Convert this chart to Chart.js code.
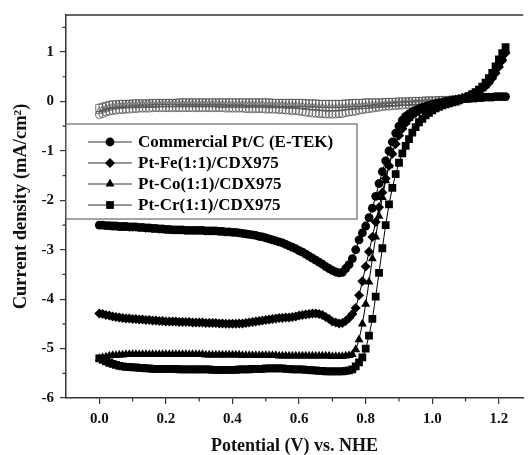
<!DOCTYPE html>
<html>
<head>
<meta charset="utf-8">
<script src="https://cdn.jsdelivr.net/npm/chart.js@4.4.0/dist/chart.umd.min.js"></script>
<style>
  html, body { margin: 0; padding: 0; background: #fff; }
</style>
</head>
<body>
<canvas id="orrChart" width="529" height="455"></canvas>
<script>
// potential sweep (V vs. NHE)
const potential = [
    0.00, 0.01, 0.02, 0.03, 0.04, 0.05, 0.06, 0.07, 0.08, 0.09,
    0.10, 0.11, 0.12, 0.13, 0.14, 0.15, 0.16, 0.17, 0.18, 0.19,
    0.20, 0.21, 0.22, 0.23, 0.24, 0.25, 0.26, 0.27, 0.28, 0.29,
    0.30, 0.31, 0.32, 0.33, 0.34, 0.35, 0.36, 0.37, 0.38, 0.39,
    0.40, 0.41, 0.42, 0.43, 0.44, 0.45, 0.46, 0.47, 0.48, 0.49,
    0.50, 0.51, 0.52, 0.53, 0.54, 0.55, 0.56, 0.57, 0.58, 0.59,
    0.60, 0.61, 0.62, 0.63, 0.64, 0.65, 0.66, 0.67, 0.68, 0.69,
    0.70, 0.71, 0.72, 0.73, 0.74, 0.75, 0.76, 0.77, 0.78, 0.79,
    0.80, 0.81, 0.82, 0.83, 0.84, 0.85, 0.86, 0.87, 0.88, 0.89,
    0.90, 0.91, 0.92, 0.93, 0.94, 0.95, 0.96, 0.97, 0.98, 0.99,
    1.00, 1.01, 1.02, 1.03, 1.04, 1.05, 1.06, 1.07, 1.08, 1.09,
    1.10, 1.11, 1.12, 1.13, 1.14, 1.15, 1.16, 1.17, 1.18, 1.19,
    1.20, 1.21, 1.22
];

// current density (mA/cm2)
const commercialPtC = [
    -2.50, -2.50, -2.51, -2.51, -2.52, -2.52, -2.53, -2.53, -2.53, -2.54,
    -2.54, -2.54, -2.55, -2.55, -2.56, -2.56, -2.57, -2.57, -2.58, -2.58,
    -2.59, -2.59, -2.60, -2.60, -2.60, -2.60, -2.61, -2.61, -2.61, -2.61,
    -2.61, -2.61, -2.62, -2.62, -2.62, -2.62, -2.63, -2.63, -2.64, -2.64,
    -2.65, -2.65, -2.66, -2.67, -2.68, -2.69, -2.70, -2.71, -2.73, -2.74,
    -2.76, -2.78, -2.80, -2.82, -2.84, -2.86, -2.89, -2.92, -2.95, -2.98,
    -3.02, -3.05, -3.09, -3.13, -3.17, -3.21, -3.25, -3.29, -3.34, -3.38,
    -3.42, -3.45, -3.47, -3.46, -3.38, -3.30, -3.18, -3.00, -2.80, -2.66,
    -2.52, -2.35, -2.16, -1.92, -1.66, -1.42, -1.20, -1.00, -0.82, -0.64,
    -0.50, -0.38, -0.30, -0.25, -0.21, -0.18, -0.15, -0.12, -0.10, -0.08,
    -0.06, -0.05, -0.03, -0.02, 0.00, 0.01, 0.02, 0.03, 0.04, 0.05,
    0.06, 0.06, 0.07, 0.07, 0.08, 0.08, 0.09, 0.09, 0.09, 0.10,
    0.10, 0.10, 0.10
];
const ptFe = [
    -4.29, -4.30, -4.32, -4.33, -4.35, -4.36, -4.37, -4.38, -4.39, -4.39,
    -4.40, -4.40, -4.41, -4.41, -4.42, -4.42, -4.43, -4.43, -4.44, -4.44,
    -4.45, -4.45, -4.45, -4.45, -4.46, -4.46, -4.46, -4.46, -4.47, -4.47,
    -4.47, -4.47, -4.48, -4.48, -4.48, -4.48, -4.49, -4.49, -4.50, -4.50,
    -4.50, -4.50, -4.49, -4.49, -4.48, -4.47, -4.46, -4.45, -4.44, -4.43,
    -4.42, -4.41, -4.40, -4.39, -4.38, -4.38, -4.37, -4.37, -4.36, -4.35,
    -4.33, -4.32, -4.31, -4.30, -4.29, -4.29, -4.30, -4.32, -4.36, -4.40,
    -4.45, -4.47, -4.49, -4.48, -4.44, -4.38, -4.30, -4.18, -3.92, -3.64,
    -3.34, -3.04, -2.74, -2.44, -2.14, -1.84, -1.56, -1.30, -1.06, -0.86,
    -0.69, -0.55, -0.44, -0.35, -0.28, -0.23, -0.19, -0.15, -0.12, -0.09,
    -0.07, -0.05, -0.04, -0.02, -0.01, 0.00, 0.02, 0.03, 0.05, 0.07,
    0.09, 0.11, 0.14, 0.17, 0.21, 0.26, 0.31, 0.38, 0.47, 0.57,
    0.70, 0.83, 0.98
];
const ptCo = [
    -5.20, -5.18, -5.17, -5.15, -5.14, -5.14, -5.13, -5.13, -5.12, -5.12,
    -5.12, -5.12, -5.12, -5.12, -5.12, -5.12, -5.12, -5.12, -5.12, -5.12,
    -5.12, -5.12, -5.12, -5.12, -5.12, -5.12, -5.12, -5.12, -5.12, -5.12,
    -5.12, -5.12, -5.13, -5.13, -5.13, -5.13, -5.13, -5.13, -5.13, -5.13,
    -5.13, -5.13, -5.13, -5.14, -5.14, -5.14, -5.14, -5.14, -5.14, -5.14,
    -5.14, -5.14, -5.14, -5.14, -5.15, -5.15, -5.15, -5.15, -5.15, -5.15,
    -5.15, -5.15, -5.15, -5.15, -5.15, -5.15, -5.15, -5.15, -5.15, -5.15,
    -5.16, -5.16, -5.16, -5.16, -5.15, -5.14, -5.12, -5.02, -4.82, -4.50,
    -4.10, -3.65, -3.18, -2.74, -2.32, -1.94, -1.60, -1.30, -1.04, -0.83,
    -0.66, -0.52, -0.42, -0.34, -0.27, -0.22, -0.18, -0.15, -0.12, -0.09,
    -0.07, -0.05, -0.04, -0.02, -0.01, 0.00, 0.02, 0.03, 0.05, 0.07,
    0.09, 0.11, 0.14, 0.17, 0.21, 0.26, 0.32, 0.40, 0.50, 0.62,
    0.76, 0.90, 1.05
];
const ptCr = [
    -5.20, -5.23, -5.26, -5.29, -5.31, -5.33, -5.35, -5.36, -5.37, -5.37,
    -5.38, -5.38, -5.39, -5.39, -5.40, -5.40, -5.41, -5.41, -5.41, -5.41,
    -5.41, -5.41, -5.41, -5.41, -5.42, -5.42, -5.42, -5.42, -5.42, -5.42,
    -5.42, -5.42, -5.42, -5.42, -5.43, -5.43, -5.43, -5.43, -5.43, -5.43,
    -5.43, -5.43, -5.42, -5.42, -5.42, -5.42, -5.41, -5.41, -5.41, -5.41,
    -5.40, -5.40, -5.40, -5.40, -5.40, -5.40, -5.41, -5.41, -5.42, -5.42,
    -5.42, -5.42, -5.43, -5.43, -5.44, -5.44, -5.45, -5.45, -5.46, -5.46,
    -5.46, -5.46, -5.46, -5.46, -5.45, -5.44, -5.42, -5.36, -5.28, -5.18,
    -5.00, -4.74, -4.40, -3.95, -3.47, -2.97, -2.50, -2.08, -1.75, -1.47,
    -1.24, -1.05, -0.90, -0.76, -0.63, -0.52, -0.42, -0.35, -0.28, -0.23,
    -0.18, -0.14, -0.11, -0.08, -0.06, -0.04, -0.02, 0.00, 0.03, 0.05,
    0.08, 0.11, 0.15, 0.19, 0.24, 0.30, 0.38, 0.47, 0.58, 0.71,
    0.85, 0.98, 1.10
];

// background scans (open symbols near zero)
const blankPotential = [
    0.00, 0.01, 0.02, 0.03, 0.04, 0.05, 0.06, 0.07, 0.08, 0.09,
    0.10, 0.11, 0.12, 0.13, 0.14, 0.15, 0.16, 0.17, 0.18, 0.19,
    0.20, 0.21, 0.22, 0.23, 0.24, 0.25, 0.26, 0.27, 0.28, 0.29,
    0.30, 0.31, 0.32, 0.33, 0.34, 0.35, 0.36, 0.37, 0.38, 0.39,
    0.40, 0.41, 0.42, 0.43, 0.44, 0.45, 0.46, 0.47, 0.48, 0.49,
    0.50, 0.51, 0.52, 0.53, 0.54, 0.55, 0.56, 0.57, 0.58, 0.59,
    0.60, 0.61, 0.62, 0.63, 0.64, 0.65, 0.66, 0.67, 0.68, 0.69,
    0.70, 0.71, 0.72, 0.73, 0.74, 0.75, 0.76, 0.77, 0.78, 0.79,
    0.80, 0.81, 0.82, 0.83, 0.84, 0.85, 0.86, 0.87, 0.88, 0.89,
    0.90, 0.91, 0.92, 0.93, 0.94, 0.95, 0.96, 0.97, 0.98, 0.99,
    1.00, 1.01, 1.02, 1.03, 1.04, 1.05, 1.06, 1.07, 1.08
];
const blankSquares = [
    -0.13, -0.11, -0.09, -0.07, -0.06, -0.06, -0.05, -0.05, -0.05, -0.05,
    -0.04, -0.04, -0.04, -0.04, -0.04, -0.04, -0.03, -0.03, -0.03, -0.03,
    -0.03, -0.03, -0.03, -0.03, -0.02, -0.02, -0.02, -0.02, -0.02, -0.02,
    -0.02, -0.02, -0.02, -0.02, -0.02, -0.02, -0.02, -0.02, -0.02, -0.02,
    -0.02, -0.02, -0.02, -0.02, -0.02, -0.02, -0.02, -0.02, -0.02, -0.02,
    -0.02, -0.02, -0.03, -0.03, -0.03, -0.03, -0.03, -0.03, -0.03, -0.03,
    -0.03, -0.03, -0.04, -0.04, -0.04, -0.04, -0.05, -0.05, -0.05, -0.05,
    -0.05, -0.05, -0.05, -0.05, -0.04, -0.04, -0.03, -0.03, -0.03, -0.03,
    -0.02, -0.02, -0.02, -0.02, -0.02, -0.02, -0.01, -0.01, -0.01, -0.01,
    0.00, 0.00, 0.00, 0.00, 0.01, 0.01, 0.01, 0.01, 0.02, 0.02,
    0.02, 0.02, 0.03, 0.03, 0.03, 0.03, 0.04, 0.04, 0.05
];
const blankTriangles = [
    -0.20, -0.17, -0.15, -0.13, -0.11, -0.10, -0.09, -0.09, -0.08, -0.08,
    -0.08, -0.08, -0.07, -0.07, -0.07, -0.07, -0.07, -0.07, -0.06, -0.06,
    -0.06, -0.06, -0.06, -0.06, -0.06, -0.06, -0.06, -0.06, -0.06, -0.06,
    -0.06, -0.06, -0.06, -0.06, -0.06, -0.06, -0.07, -0.07, -0.07, -0.07,
    -0.07, -0.07, -0.07, -0.07, -0.07, -0.07, -0.07, -0.07, -0.07, -0.07,
    -0.08, -0.08, -0.08, -0.08, -0.08, -0.08, -0.09, -0.09, -0.09, -0.09,
    -0.10, -0.10, -0.11, -0.11, -0.12, -0.12, -0.13, -0.13, -0.14, -0.14,
    -0.14, -0.14, -0.13, -0.13, -0.12, -0.12, -0.11, -0.11, -0.10, -0.10,
    -0.09, -0.09, -0.08, -0.08, -0.07, -0.07, -0.06, -0.06, -0.05, -0.05,
    -0.04, -0.04, -0.03, -0.03, -0.03, -0.03, -0.02, -0.02, -0.01, -0.01,
    -0.01, -0.01, 0.00, 0.00, 0.01, 0.01, 0.01, 0.02, 0.02
];
const blankCircles = [
    -0.27, -0.25, -0.22, -0.20, -0.19, -0.18, -0.17, -0.17, -0.16, -0.16,
    -0.15, -0.15, -0.14, -0.14, -0.14, -0.14, -0.13, -0.13, -0.13, -0.13,
    -0.13, -0.13, -0.13, -0.13, -0.13, -0.13, -0.13, -0.13, -0.13, -0.13,
    -0.13, -0.13, -0.13, -0.13, -0.13, -0.13, -0.13, -0.13, -0.14, -0.14,
    -0.14, -0.14, -0.14, -0.14, -0.15, -0.15, -0.15, -0.15, -0.15, -0.15,
    -0.16, -0.16, -0.16, -0.16, -0.17, -0.17, -0.18, -0.18, -0.19, -0.19,
    -0.20, -0.21, -0.22, -0.23, -0.24, -0.24, -0.25, -0.25, -0.26, -0.26,
    -0.26, -0.26, -0.25, -0.25, -0.23, -0.22, -0.21, -0.20, -0.18, -0.17,
    -0.16, -0.15, -0.14, -0.13, -0.12, -0.11, -0.10, -0.10, -0.09, -0.09,
    -0.08, -0.08, -0.07, -0.07, -0.06, -0.06, -0.05, -0.05, -0.04, -0.04,
    -0.04, -0.04, -0.03, -0.03, -0.02, -0.02, -0.01, -0.01, 0.00
];

const seriesNames = ['Commercial Pt/C (E-TEK)', 'Pt-Fe(1:1)/CDX975', 'Pt-Co(1:1)/CDX975', 'Pt-Cr(1:1)/CDX975'];
const xTicks = [0.0, 0.2, 0.4, 0.6, 0.8, 1.0, 1.2];
const xMinorTicks = [0.1, 0.3, 0.5, 0.7, 0.9, 1.1];
const yTicks = [-6, -5, -4, -3, -2, -1, 0, 1];
const yMinorTicks = [-5.5, -4.5, -3.5, -2.5, -1.5, -0.5, 0.5, 1.5];

const FONT = '"Liberation Serif", "Times New Roman", serif';

function toPoints(xs, ys) {
    return xs.map((x, i) => ({ x: x, y: ys[i] }));
}

const solidStyle = [
    { pointStyle: 'circle', radius: 4.4 },
    { pointStyle: 'rectRot', radius: 5 },
    { pointStyle: 'triangle', radius: 5.2 },
    { pointStyle: 'rect', radius: 5.5 }
];

function solidSet(i, values) {
    return {
        label: seriesNames[i],
        data: toPoints(potential, values),
        borderColor: '#000',
        backgroundColor: '#000',
        borderWidth: 1,
        pointStyle: solidStyle[i].pointStyle,
        pointRadius: solidStyle[i].radius,
        pointBorderWidth: 0,
        pointBackgroundColor: '#000'
    };
}

function openSet(style, radius, values) {
    return {
        label: '',
        data: toPoints(blankPotential, values),
        showLine: false,
        pointStyle: style,
        pointRadius: radius,
        pointBorderWidth: 0.8,
        pointBorderColor: '#555',
        pointBackgroundColor: 'rgba(255,255,255,0)'
    };
}

// minor ticks and top frame line
const frameAndMinors = {
    id: 'frameAndMinors',
    afterDraw(chart) {
        const { ctx, chartArea: a, scales: { x, y } } = chart;
        ctx.save();
        ctx.strokeStyle = '#333';
        ctx.lineWidth = 1.2;
        ctx.beginPath();
        xMinorTicks.forEach(v => {
            const px = x.getPixelForValue(v);
            ctx.moveTo(px, a.bottom);
            ctx.lineTo(px, a.bottom + 3.5);
        });
        yMinorTicks.forEach(v => {
            const py = y.getPixelForValue(v);
            ctx.moveTo(a.left, py);
            ctx.lineTo(a.left - 3.5, py);
        });
        ctx.stroke();
        ctx.lineWidth = 1.5;
        ctx.beginPath();
        ctx.moveTo(a.left, a.top);
        ctx.lineTo(a.right, a.top);
        ctx.stroke();
        ctx.restore();
    }
};

// boxed legend sitting inside the plot
const boxedLegend = {
    id: 'boxedLegend',
    afterDatasetsDraw(chart) {
        const { ctx, chartArea: a } = chart;
        const left = a.left, top = 124, right = 357, bottom = 219;
        ctx.save();
        ctx.fillStyle = '#fff';
        ctx.fillRect(left, top, right - left, bottom - top);
        ctx.strokeStyle = '#666';
        ctx.lineWidth = 1.2;
        ctx.strokeRect(left, top, right - left, bottom - top);
        ctx.font = 'bold 17px ' + FONT;
        ctx.textBaseline = 'middle';
        seriesNames.forEach((name, i) => {
            const rowY = 142 + i * 21;
            ctx.strokeStyle = '#333';
            ctx.lineWidth = 1;
            ctx.beginPath();
            ctx.moveTo(88, rowY);
            ctx.lineTo(132, rowY);
            ctx.stroke();
            ctx.fillStyle = '#000';
            Chart.helpers.drawPoint(ctx, { pointStyle: solidStyle[i].pointStyle, radius: solidStyle[i].radius, rotation: 0, borderWidth: 0 }, 110, rowY);
            ctx.fillStyle = '#000';
            ctx.fillText(name, 138, rowY + 1);
        });
        ctx.restore();
    }
};

function renderChart() {
    const ctx = document.getElementById('orrChart').getContext('2d');
    new Chart(ctx, {
        type: 'scatter',
        data: {
            datasets: [
                solidSet(0, commercialPtC),
                solidSet(1, ptFe),
                solidSet(2, ptCo),
                solidSet(3, ptCr),
                openSet('rect', 5, blankSquares),
                openSet('triangle', 4.5, blankTriangles),
                openSet('circle', 3.8, blankCircles)
            ]
        },
        options: {
            responsive: false,
            animation: false,
            layout: { padding: { left: 0, top: 13, right: 0, bottom: 0 } },
            elements: { line: { tension: 0 } },
            plugins: {
                legend: { display: false },
                tooltip: { enabled: false }
            },
            datasets: { scatter: { showLine: true } },
            scales: {
                x: {
                    type: 'linear',
                    min: -0.1,
                    max: 1.273,
                    afterBuildTicks: s => { s.ticks = xTicks.map(v => ({ value: v })); },
                    afterFit: s => { s.height = 57; },
                    grid: { drawOnChartArea: false, drawTicks: true, tickLength: 6, color: '#333', lineWidth: 1.2 },
                    border: { display: true, color: '#333', width: 1.5 },
                    ticks: {
                        padding: 6,
                        color: '#111',
                        maxRotation: 0,
                        autoSkip: false,
                        font: { family: FONT, size: 15, weight: 'bold' },
                        callback: v => Number(v).toFixed(1)
                    },
                    title: {
                        display: true,
                        text: 'Potential (V) vs. NHE',
                        color: '#111',
                        font: { family: FONT, size: 18, weight: 'bold', lineHeight: 1 },
                        padding: { top: 0, bottom: 0 }
                    }
                },
                y: {
                    type: 'linear',
                    min: -6,
                    max: 1.75,
                    afterBuildTicks: s => { s.ticks = yTicks.map(v => ({ value: v })); },
                    afterFit: s => { s.width = 66; },
                    grid: { drawOnChartArea: false, drawTicks: true, tickLength: 6, color: '#333', lineWidth: 1.2 },
                    border: { display: true, color: '#333', width: 1.5 },
                    ticks: {
                        padding: 6,
                        color: '#111',
                        font: { family: FONT, size: 15, weight: 'bold' },
                        callback: v => String(v)
                    },
                    title: {
                        display: true,
                        text: 'Current density (mA/cm²)',
                        color: '#111',
                        font: { family: FONT, size: 18.5, weight: 'bold', lineHeight: 1 },
                        padding: { top: 12, bottom: 0 }
                    }
                }
            }
        },
        plugins: [frameAndMinors, boxedLegend]
    });
}

window.onload = renderChart;
</script>
</body>
</html>
